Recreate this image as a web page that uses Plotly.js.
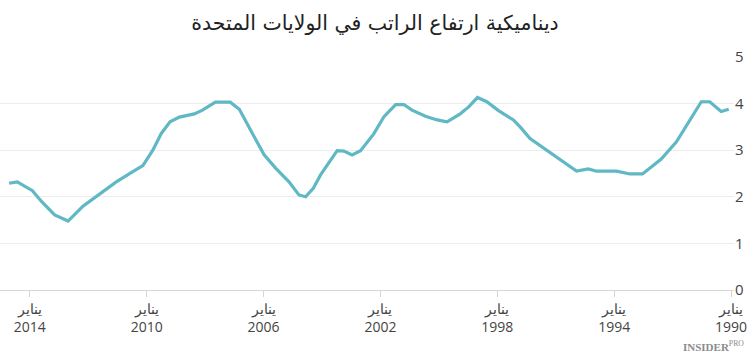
<!DOCTYPE html>
<html>
<head>
<meta charset="utf-8">
<script src="https://cdn.plot.ly/plotly-3.0.1.min.js"></script>
<style>html,body{margin:0;padding:0;background:#fff;}#chart{width:750px;height:353px;}</style>
</head>
<body>
<div id="chart"></div>
<script>
const years = [2014.71, 2014.43, 2013.91, 2013.6, 2013.15, 2012.69, 2012.18, 2011.6, 2011.04, 2010.53, 2010.13,
  2009.79, 2009.5, 2009.2, 2008.88, 2008.37, 2008.09, 2007.65, 2007.14, 2006.83, 2006.55, 2006.26, 2005.98,
  2005.58, 2005.13, 2004.79, 2004.56, 2004.3, 2004.05, 2003.65, 2003.48, 2003.25, 2002.97, 2002.68, 2002.23,
  2001.88, 2001.48, 2001.2, 2000.92, 2000.46, 2000.06, 1999.72, 1999.27, 1998.98, 1998.68, 1998.36, 1997.96,
  1997.45, 1997.22, 1996.88, 1996.31, 1996.02, 1995.63, 1995.29, 1994.89, 1994.6, 1993.92, 1993.46, 1993.03,
  1992.73, 1992.39, 1991.87, 1991.42, 1991.02, 1990.73, 1990.34, 1990.08];
const wageGrowth = [2.29, 2.32, 2.13, 1.90, 1.61, 1.48, 1.80, 2.07, 2.32, 2.52, 2.67,
  3.0, 3.36, 3.61, 3.71, 3.78, 3.86, 4.03, 4.03, 3.88, 3.54, 3.22, 2.90,
  2.61, 2.32, 2.04, 2.0, 2.18, 2.47, 2.83, 2.99, 2.98, 2.90, 2.99, 3.35,
  3.72, 3.98, 3.98, 3.86, 3.73, 3.65, 3.61, 3.78, 3.93, 4.13, 4.04, 3.85,
  3.65, 3.50, 3.25, 3.0, 2.86, 2.70, 2.55, 2.60, 2.55, 2.55, 2.49, 2.49,
  2.65, 2.81, 3.18, 3.65, 4.04, 4.04, 3.83, 3.88];
const tickYears = [2014, 2010, 2006, 2002, 1998, 1994, 1990];
const tickLabels = ["يناير<br>2014", "يناير<br>2010", "يناير<br>2006", "يناير<br>2002", "يناير<br>1998", "يناير<br>1994", "يناير<br>1990"];
const titleText = "ديناميكية ارتفاع الراتب في الولايات المتحدة";

Plotly.newPlot('chart', [{
  x: years, y: wageGrowth, type: 'scatter', mode: 'lines',
  line: {color: '#5fb8c4', width: 3.2}, hoverinfo: 'skip'
}], {
  width: 750, height: 353,
  margin: {l: 0, r: 16, t: 57, b: 63},
  paper_bgcolor: '#fff', plot_bgcolor: '#fff',
  showlegend: false,
  title: {text: titleText, x: 0.5, xanchor: 'center', y: 0.935, yanchor: 'middle',
          font: {family: 'DejaVu Sans', size: 20.5, color: '#222'}},
  xaxis: {
    range: [2015.02, 1989.9], tickvals: tickYears, ticktext: tickLabels,
    showgrid: false, zeroline: false, showline: true, linecolor: '#d6d6d6', linewidth: 1,
    ticks: 'outside', ticklen: 6, tickcolor: '#d6d6d6',
    tickfont: {family: 'Open Sans', size: 14, color: '#444'}
  },
  yaxis: {
    range: [0, 5], side: 'right', tickvals: [0, 1, 2, 3, 4, 5],
    showgrid: true, gridcolor: '#ececec', zeroline: false, showline: false,
    ticks: '', tickfont: {family: 'Open Sans', size: 15, color: '#444'}
  },
  annotations: [{
    text: '<b>INSIDER</b><sup>PRO</sup>', xref: 'paper', yref: 'paper', x: 1, y: -0.2,
    xanchor: 'right', yanchor: 'top', xshift: 12, showarrow: false,
    font: {family: 'Liberation Serif', size: 11, color: '#8a8a8a'}
  }]
}, {staticPlot: true});
</script>
</body>
</html>
